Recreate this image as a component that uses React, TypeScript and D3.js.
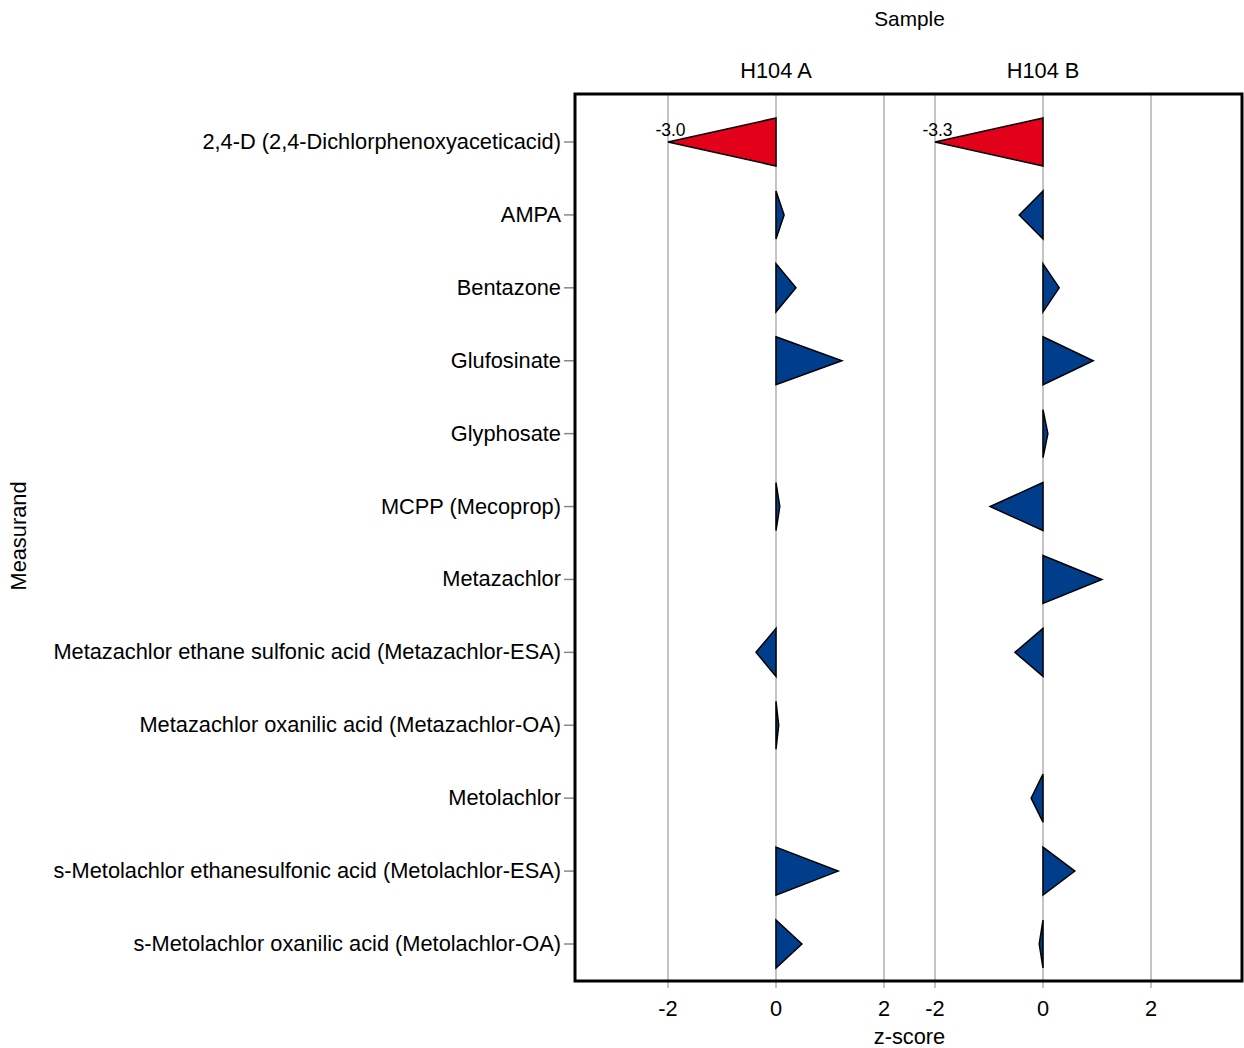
import React from "react";
import * as d3 from "d3";

const measurands = [
  "2,4-D (2,4-Dichlorphenoxyaceticacid)",
  "AMPA",
  "Bentazone",
  "Glufosinate",
  "Glyphosate",
  "MCPP (Mecoprop)",
  "Metazachlor",
  "Metazachlor ethane sulfonic acid (Metazachlor-ESA)",
  "Metazachlor oxanilic acid (Metazachlor-OA)",
  "Metolachlor",
  "s-Metolachlor ethanesulfonic acid (Metolachlor-ESA)",
  "s-Metolachlor oxanilic acid (Metolachlor-OA)",
];

const samples = ["H104 A", "H104 B"];

const zH104A: (number | null)[] = [-3.0, 0.15, 0.37, 1.22, null, 0.07, null, -0.37, 0.05, null, 1.15, 0.48];
const zH104B: (number | null)[] = [-3.3, -0.44, 0.3, 0.93, 0.09, -0.98, 1.09, -0.52, null, -0.22, 0.59, -0.07];

const xTicks = [-2, 0, 2];
const clipLimit = 2;

const W = 1244;
const H = 1048;
const FONT = "'Liberation Sans', Arial, sans-serif";
const FS = 21.8;
const RED = "#e2001a";
const BLUE = "#003e8c";
const GRID = "#c4c4c4";

export default function App() {
  const box = { left: 575, right: 1242, top: 94, bottom: 981 };
  const y = d3.scalePoint<string>().domain(measurands).range([142, 944]);
  const half = 24;

  const panels = [
    { name: samples[0], values: zH104A, x: d3.scaleLinear().domain([-2, 2]).range([668, 884]) },
    { name: samples[1], values: zH104B, x: d3.scaleLinear().domain([-2, 2]).range([935, 1151]) },
  ];

  return (
    <svg width={W} height={H} style={{ position: "absolute", left: 0, top: 0 }} fontFamily={FONT}>
      <rect x={0} y={0} width={W} height={H} fill="#fff" />
      <text x={909.5} y={25.5} fontSize={FS - 1} textAnchor="middle">Sample</text>
      <text x={909.5} y={1044} fontSize={FS} textAnchor="middle">z-score</text>
      <text transform={`translate(26,${536}) rotate(-90)`} fontSize={FS} textAnchor="middle">Measurand</text>

      {panels.map((p) => (
        <g key={p.name}>
          <text x={p.x(0)} y={77.5} fontSize={FS} textAnchor="middle">{p.name}</text>
          {xTicks.map((t) => (
            <g key={t}>
              <line x1={p.x(t)} x2={p.x(t)} y1={box.top} y2={box.bottom + 7} stroke={GRID} strokeWidth={2} />
              <text x={p.x(t)} y={1016} fontSize={FS} textAnchor="middle">{t}</text>
            </g>
          ))}
        </g>
      ))}

      {measurands.map((m) => (
        <g key={m}>
          <line x1={box.left - 11} x2={box.left} y1={y(m)} y2={y(m)} stroke="#888" strokeWidth={1.5} />
          <text x={box.left - 14} y={(y(m) as number) + 7} fontSize={FS} textAnchor="end">{m}</text>
        </g>
      ))}

      {panels.map((p) =>
        p.values.map((v, i) => {
          if (v === null) return null;
          const m = measurands[i];
          const cy = y(m) as number;
          const vc = Math.max(-clipLimit, Math.min(clipLimit, v));
          const x0 = p.x(0);
          const x1 = p.x(vc);
          const path = d3.path();
          path.moveTo(x0, cy - half);
          path.lineTo(x1, cy);
          path.lineTo(x0, cy + half);
          path.closePath();
          const out = Math.abs(v) > clipLimit;
          return (
            <g key={p.name + m}>
              <path d={path.toString()} fill={out ? RED : BLUE} stroke="#000" strokeWidth={1.5} strokeLinejoin="miter" />
              {out && (
                <text x={x1 + 2.5} y={cy - 6.5} fontSize={17.5} textAnchor="middle">{v.toFixed(1)}</text>
              )}
            </g>
          );
        })
      )}

      <rect x={box.left} y={box.top} width={box.right - box.left} height={box.bottom - box.top} fill="none" stroke="#000" strokeWidth={3} />
    </svg>
  );
}
